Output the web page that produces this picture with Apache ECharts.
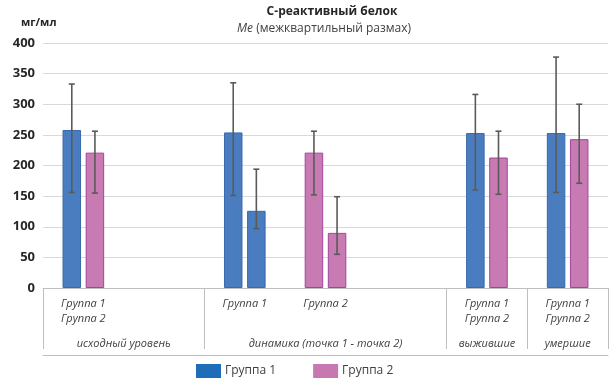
<!DOCTYPE html>
<html>
<head>
<meta charset="utf-8">
<script src="https://cdn.jsdelivr.net/npm/echarts@6/dist/echarts.min.js"></script>
<style>
  html, body { margin: 0; padding: 0; background: #fff; }
  #chart { width: 611px; height: 381px; }
</style>
</head>
<body>
<div id="chart"></div>
<script>
// Slots along the x axis (two of them are spacers between sections)
const slotLabels = ['Группа 1\nГруппа 2', '', 'Группа 1', 'Группа 2', '', 'Группа 1\nГруппа 2', 'Группа 1\nГруппа 2'];
// Section captions, placed on a 15-point helper axis (boundaries and centres of slots)
const sectionLabels = ['', '', 'исходный уровень', '', '', '', '', 'динамика (точка 1 - точка 2)', '', '', '', 'выжившие', '', 'умершие', ''];
// Slot indices where a section starts (for the divider ticks)
const sectionStarts = [0, 2, 5, 6];

const seriesNames = ['Группа 1', 'Группа 2'];

// Left bar of each slot: median and interquartile range
const leftMedian = [258, null, 254, 221, null, 253, 253];
const leftQ1     = [156, null, 151, 152, null, 160, 156];
const leftQ3     = [333, null, 335, 256, null, 316, 377];
const leftGroup  = [0, null, 0, 1, null, 0, 0];

// Right bar of each slot
const rightMedian = [221, null, 126, 90, null, 213, 243];
const rightQ1     = [155, null, 97, 55, null, 153, 171];
const rightQ3     = [256, null, 194, 149, null, 256, 300];
const rightGroup  = [1, null, 0, 1, null, 1, 1];

const yTicks = { min: 0, max: 400, step: 50 };

const fills   = ['#4a7dc0', '#c87ab2'];
const borders = ['#3a67ad', '#a2449c'];
const legendFills = ['#1f6db8', '#c878b0'];

const BAR_W = 18.5;
const BAR_GAP = 0.25;
const FONT = '"Open Sans", "Liberation Sans", sans-serif';
const TEXT = '#404040';

function barData(med, grp) {
  return med.map(function (v, i) {
    if (v == null) return '-';
    return { value: v, itemStyle: { color: fills[grp[i]], borderColor: borders[grp[i]] } };
  });
}
function rangeData(q1, q3) {
  const out = [];
  q1.forEach(function (lo, i) { if (lo != null) out.push([i, lo, q3[i]]); });
  return out;
}
function errorBars(side) {
  const shift = side * (BAR_W + BAR_W * BAR_GAP) / 2;
  return function (params, api) {
    const lo = api.coord([api.value(0), api.value(1)]);
    const hi = api.coord([api.value(0), api.value(2)]);
    const x = lo[0] + shift, cap = 3;
    const st = { stroke: '#5a5a5a', lineWidth: 1.6 };
    return { type: 'group', children: [
      { type: 'line', shape: { x1: x, y1: lo[1], x2: x, y2: hi[1] }, style: st },
      { type: 'line', shape: { x1: x - cap, y1: lo[1], x2: x + cap, y2: lo[1] }, style: st },
      { type: 'line', shape: { x1: x - cap, y1: hi[1], x2: x + cap, y2: hi[1] }, style: st }
    ] };
  };
}

const chart = echarts.init(document.getElementById('chart'), null, { renderer: 'canvas' });
chart.setOption({
  animation: false,
  backgroundColor: '#ffffff',
  title: [
    { text: 'С-реактивный белок', left: 327, top: 1, textAlign: 'center',
      textStyle: { fontFamily: FONT, fontSize: 12, fontWeight: 'bold', color: '#262626' } },
    { text: '{i|Ме} (межквартильный размах)', left: 319, top: 18, textAlign: 'center',
      textStyle: { fontFamily: FONT, fontSize: 12, fontWeight: 'normal', color: TEXT,
        rich: { i: { fontFamily: FONT, fontSize: 12, fontStyle: 'italic', color: TEXT } } } },
    { text: 'мг/мл', left: 21, top: 17, padding: 0,
      textStyle: { fontFamily: FONT, fontSize: 11, fontWeight: 'bold', color: '#262626' } }
  ],
  legend: {
    data: seriesNames.map(function (n, i) {
      return { name: n, itemStyle: { color: legendFills[i], borderWidth: 0 } };
    }),
    left: 196, top: 364, padding: 0, itemWidth: 25, itemHeight: 14, itemGap: 37,
    icon: 'rect',
    textStyle: { fontFamily: FONT, fontSize: 12, color: TEXT, padding: [0, 0, 0, -1] }
  },
  grid: { left: 43, right: 1, top: 43, bottom: 93, containLabel: false },
  xAxis: [
    {
      type: 'category', data: slotLabels, boundaryGap: true,
      axisLine: { lineStyle: { color: '#bfbfbf', width: 1 } },
      axisTick: { show: true, length: 61, interval: function (i) { return sectionStarts.indexOf(i) >= 0; },
        lineStyle: { color: '#bfbfbf' } },
      axisLabel: { interval: 0, margin: 8, lineHeight: 15, fontFamily: FONT, fontSize: 11,
        fontStyle: 'italic', color: TEXT },
      splitLine: { show: false }
    },
    {
      type: 'category', data: sectionLabels, boundaryGap: false, position: 'bottom', offset: 67,
      axisLine: { show: true, lineStyle: { color: '#bfbfbf', width: 1 } },
      axisTick: { show: false },
      axisLabel: { inside: true, interval: 0, margin: 6, fontFamily: FONT, fontSize: 11,
        fontStyle: 'italic', color: TEXT },
      splitLine: { show: false }
    }
  ],
  yAxis: {
    type: 'value', min: yTicks.min, max: yTicks.max, interval: yTicks.step,
    axisLine: { show: false }, axisTick: { show: false },
    axisLabel: { margin: 8, fontFamily: FONT, fontSize: 13, fontWeight: 'bold', color: '#262626' },
    splitLine: { lineStyle: { color: '#d9d9d9', width: 1.2 } }
  },
  series: [
    { name: seriesNames[0], type: 'bar', xAxisIndex: 0, barWidth: BAR_W, barGap: (BAR_GAP * 100) + '%',
      itemStyle: { color: fills[0], borderColor: borders[0], borderWidth: 1 },
      data: barData(leftMedian, leftGroup) },
    { name: seriesNames[1], type: 'bar', xAxisIndex: 0, barWidth: BAR_W, barGap: (BAR_GAP * 100) + '%',
      itemStyle: { color: fills[1], borderColor: borders[1], borderWidth: 1 },
      data: barData(rightMedian, rightGroup) },
    { name: 'iqr-left', type: 'custom', xAxisIndex: 0, z: 5, renderItem: errorBars(-1),
      encode: { x: 0, y: [1, 2] }, data: rangeData(leftQ1, leftQ3) },
    { name: 'iqr-right', type: 'custom', xAxisIndex: 0, z: 5, renderItem: errorBars(1),
      encode: { x: 0, y: [1, 2] }, data: rangeData(rightQ1, rightQ3) }
  ]
});
</script>
</body>
</html>
